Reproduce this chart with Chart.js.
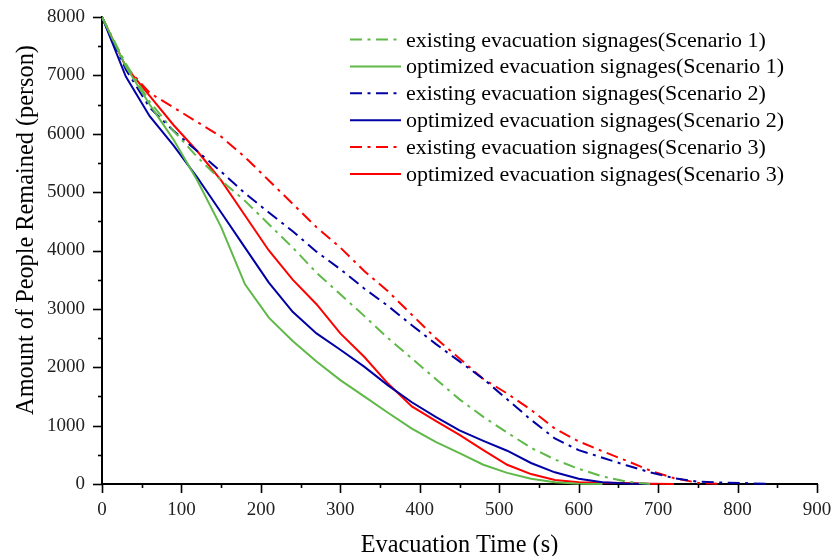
<!DOCTYPE html>
<html><head><meta charset="utf-8">
<script src="https://cdn.jsdelivr.net/npm/chart.js@4.4.1/dist/chart.umd.min.js"></script>
<style>html,body{margin:0;padding:0;background:#fff}</style>
</head><body>
<canvas id="c" width="831" height="556"></canvas>
<script>
const timeS = [0,30,60,90,120,150,180,210,240,270,300,330,360,390,420,450,480,510,540,570,600,630,660,690,720,750,780,810,840];
const existing1  = [8000,7200,6550,6050,5600,5200,4850,4450,4050,3620,3250,2880,2500,2150,1800,1450,1150,880,620,420,260,130,40,0,null,null,null,null,null];
const optimized1 = [8000,7150,6500,5900,5200,4400,3420,2850,2450,2100,1780,1500,1220,950,720,530,330,190,90,30,5,0,null,null,null,null,null,null,null];
const existing2  = [8000,7100,6450,6050,5700,5350,4980,4650,4330,3980,3680,3350,3050,2720,2400,2100,1800,1450,1100,780,580,450,320,200,100,40,25,15,0];
const optimized2 = [8000,6980,6300,5800,5250,4650,4050,3450,2950,2580,2300,2010,1690,1400,1150,920,740,570,360,200,90,30,10,0,null,null,null,null,null];
const existing3  = [8000,7150,6700,6450,6200,5950,5600,5200,4800,4400,4050,3650,3300,2900,2500,2150,1800,1550,1270,950,730,560,400,230,100,20,0,null,null];
const optimized3 = [8000,7150,6650,6150,5700,5200,4600,4000,3500,3080,2580,2180,1720,1330,1080,840,580,330,170,70,30,20,15,5,0,null,null,null,null];
const seriesLabels = [
  'existing evacuation signages(Scenario 1)',
  'optimized evacuation signages(Scenario 1)',
  'existing evacuation signages(Scenario 2)',
  'optimized evacuation signages(Scenario 2)',
  'existing evacuation signages(Scenario 3)',
  'optimized evacuation signages(Scenario 3)'
];
const xTicks = [0,100,200,300,400,500,600,700,800,900];
const yTicks = [0,1000,2000,3000,4000,5000,6000,7000,8000];

const GREEN = 'rgb(95,185,72)', BLUE = 'rgb(0,0,165)', RED = 'rgb(255,0,0)';
const DASH = [12,5.5,3,5.5];
const SERIF = "'Liberation Serif','Times New Roman',serif";

function pts(arr){ return timeS.map((t,i)=>({x:t,y:arr[i]})); }
const styles = [
  {c:GREEN,d:DASH},{c:GREEN,d:[]},{c:BLUE,d:DASH},{c:BLUE,d:[]},{c:RED,d:DASH},{c:RED,d:[]}
];
const values = [existing1,optimized1,existing2,optimized2,existing3,optimized3];
const datasets = values.map((v,i)=>({
  label: seriesLabels[i], data: pts(v), borderColor: styles[i].c, backgroundColor: styles[i].c,
  borderDash: styles[i].d, borderWidth: 2, pointRadius: 0, tension: 0, fill: false, clip: 6, spanGaps: false
}));

const decor = {
  id: 'decor',
  afterDraw(chart){
    const ctx = chart.ctx, xs = chart.scales.x, ys = chart.scales.y;
    const a = chart.chartArea;
    ctx.save();
    ctx.strokeStyle = '#000'; ctx.lineWidth = 1.6; ctx.setLineDash([]);
    for (let v = 0; v <= 900; v += 50) {
      const px = Math.round(xs.getPixelForValue(v)) + 0.5;
      const len = (v % 100 === 0) ? 9 : 4;
      ctx.beginPath(); ctx.moveTo(px, a.bottom); ctx.lineTo(px, a.bottom + len); ctx.stroke();
    }
    for (let v = 0; v <= 8000; v += 500) {
      const py = Math.round(ys.getPixelForValue(v)) + 0.5;
      const len = (v % 1000 === 0) ? 9 : 4;
      ctx.beginPath(); ctx.moveTo(a.left - len, py); ctx.lineTo(a.left, py); ctx.stroke();
    }
    // axis titles
    ctx.fillStyle = '#000';
    ctx.font = '24.3px ' + SERIF;
    ctx.textAlign = 'center'; ctx.textBaseline = 'alphabetic';
    ctx.fillText('Evacuation Time (s)', (a.left + a.right) / 2, 552);
    ctx.save();
    ctx.translate(33, 230); ctx.rotate(-Math.PI / 2);
    ctx.fillText('Amount of People Remained (person)', 0, 0);
    ctx.restore();
    // legend
    ctx.font = '22px ' + SERIF;
    ctx.textAlign = 'left';
    chart.data.datasets.forEach((ds, i) => {
      const y = 39.5 + i * 26.9;
      ctx.strokeStyle = ds.borderColor; ctx.lineWidth = 2; ctx.setLineDash(ds.borderDash);
      ctx.beginPath(); ctx.moveTo(350, y); ctx.lineTo(401, y); ctx.stroke();
      ctx.fillStyle = '#000';
      ctx.fillText(ds.label, 406, y + 7);
    });
    ctx.restore();
  }
};

new Chart(document.getElementById('c'), {
  type: 'line',
  data: { datasets },
  options: {
    responsive: false, animation: false,
    layout: { padding: { top: 17, right: 14, left: 0, bottom: 0 } },
    plugins: { legend: { display: false }, tooltip: { enabled: false } },
    scales: {
      x: {
        type: 'linear', min: 0, max: 900,
        afterBuildTicks(s){ s.ticks = xTicks.map(v=>({value:v})); },
        afterFit(s){ s.height = 72; s.paddingLeft = 0; s.paddingRight = 0; },
        grid: { display: false, drawTicks: false },
        border: { display: true, color: '#000', width: 2 },
        ticks: { padding: 15, color: '#222', font: { family: SERIF, size: 19 }, maxRotation: 0, callback: v => String(v) }
      },
      y: {
        min: 0, max: 8000,
        afterBuildTicks(s){ s.ticks = yTicks.map(v=>({value:v})); },
        afterFit(s){ s.width = 102; s.paddingTop = 0; s.paddingBottom = 0; },
        grid: { display: false, drawTicks: false },
        border: { display: true, color: '#000', width: 2 },
        ticks: { padding: 17, color: '#222', font: { family: SERIF, size: 19 }, callback: v => String(v) }
      }
    }
  },
  plugins: [decor]
});
</script>
</body></html>
